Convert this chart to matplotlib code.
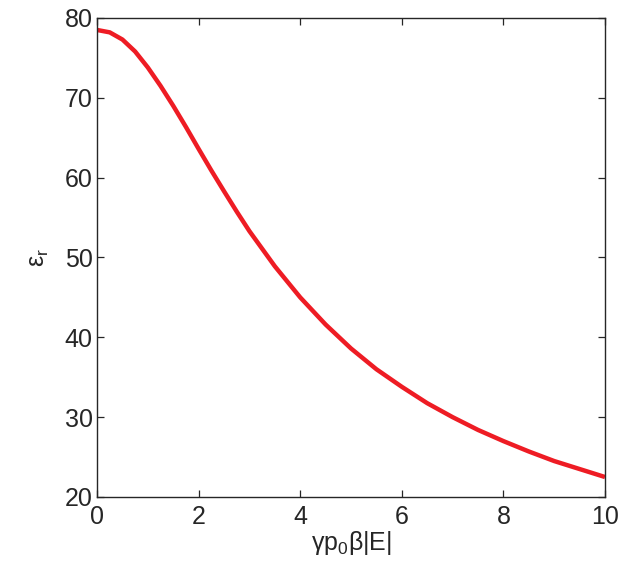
import numpy as np
import matplotlib
matplotlib.use('Agg')
import matplotlib.pyplot as plt

plt.rcParams['font.family'] = ['Liberation Sans', 'DejaVu Sans']
plt.rcParams['mathtext.fontset'] = 'custom'
plt.rcParams['mathtext.rm'] = 'Liberation Sans'
plt.rcParams['mathtext.default'] = 'regular'

# values
field = [0, 0.25, 0.5, 0.75, 1, 1.25, 1.5, 1.75, 2, 2.25, 2.5, 2.75, 3,
         3.5, 4, 4.5, 5, 5.5, 6, 6.5, 7, 7.5, 8, 8.5, 9, 9.5, 10]
eps_r = [78.5, 78.2, 77.3, 75.8, 73.8, 71.5, 69.0, 66.35, 63.6, 60.9, 58.3,
         55.75, 53.3, 48.9, 45.0, 41.6, 38.6, 36.0, 33.8, 31.75, 30.0, 28.4,
         27.0, 25.7, 24.5, 23.5, 22.5]

xticks = [0, 2, 4, 6, 8, 10]
yticks = [20, 30, 40, 50, 60, 70, 80]

fig = plt.figure(figsize=(6.2, 5.62), dpi=100)
ax = fig.add_axes([0.1565, 0.1157, 0.8193, 0.8523])

ax.plot(field, eps_r, color='#ee1c24', linewidth=3.2, solid_capstyle='butt',
        solid_joinstyle='round')

ax.set_xlim(0, 10)
ax.set_ylim(20, 80)
ax.set_xticks(xticks)
ax.set_yticks(yticks)
ax.tick_params(direction='in', top=True, right=True, length=5, width=0.9,
               labelsize=18, colors='#262626', pad=3)
ax.tick_params(axis='x', pad=6)
for s in ax.spines.values():
    s.set_color('#262626')
    s.set_linewidth(1.0)

ax.set_xlabel('γp$_0$β|E|', fontsize=18, color='#262626', labelpad=0)
ax.set_ylabel('ε$_r$', fontsize=18, color='#262626', labelpad=10)

fig.savefig('out.png', dpi=100)
